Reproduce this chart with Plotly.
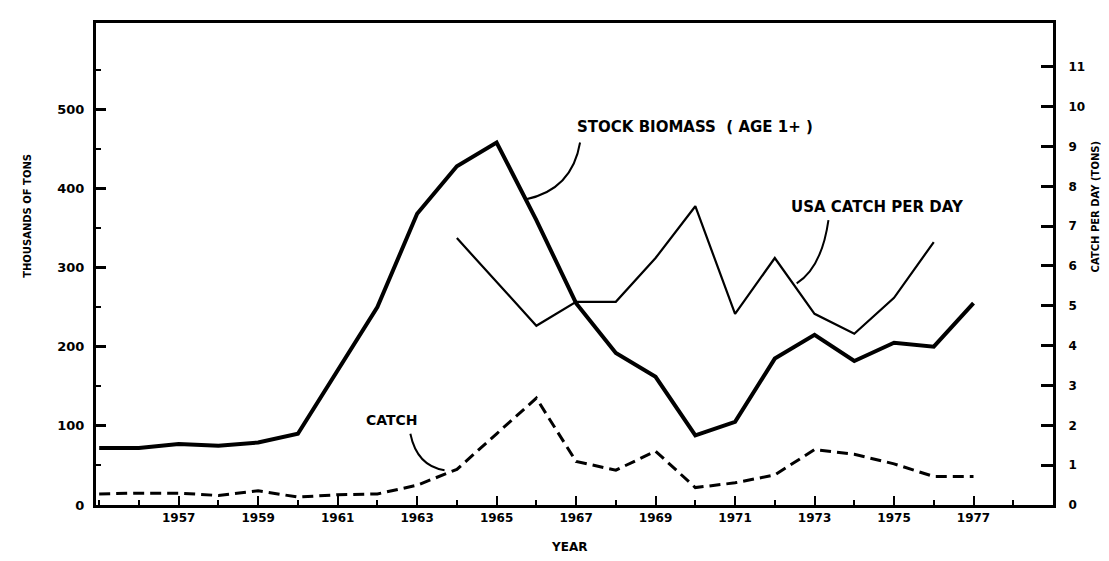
import plotly.graph_objects as go

# years / values
biomass_years = [1955, 1956, 1957, 1958, 1959, 1960, 1962, 1963, 1964, 1965, 1966,
                 1967, 1968, 1969, 1970, 1971, 1972, 1973, 1974, 1975, 1976, 1977]
biomass = [72, 72, 77, 75, 79, 90, 250, 368, 428, 458, 360,
           255, 192, 162, 88, 105, 185, 215, 182, 205, 200, 255]

catch_years = list(range(1955, 1978))
catch = [14, 15, 15, 12, 18, 10, 13, 14, 25, 45, 90, 135,
         55, 44, 68, 22, 28, 38, 70, 64, 52, 36, 36]

cpd_years = [1964, 1966, 1967, 1968, 1969, 1970, 1971, 1972, 1973, 1974, 1975, 1976]
catch_per_day = [6.7, 4.5, 5.1, 5.1, 6.2, 7.5, 4.8, 6.2, 4.8, 4.3, 5.2, 6.6]

year_ticks = [1957, 1959, 1961, 1963, 1965, 1967, 1969, 1971, 1973, 1975, 1977]
year_labels = [str(y) for y in year_ticks]
tons_ticks = [0, 100, 200, 300, 400, 500]
cpd_ticks = list(range(0, 12))

FONT = "DejaVu Sans"
ink = "black"

fig = go.Figure()

fig.add_trace(go.Scatter(x=biomass_years, y=biomass, mode="lines",
                         line=dict(color=ink, width=4), name="Stock biomass"))
fig.add_trace(go.Scatter(x=catch_years, y=catch, mode="lines",
                         line=dict(color=ink, width=3, dash="11px,6px"), name="Catch"))
fig.add_trace(go.Scatter(x=cpd_years, y=catch_per_day, mode="lines", yaxis="y2",
                         line=dict(color=ink, width=2.2), name="USA catch per day"))

tickfont = dict(family=FONT, size=12, color=ink, weight="bold")

fig.update_layout(
    width=1109, height=561,
    margin=dict(l=88, r=64, t=12, b=64),
    paper_bgcolor="white", plot_bgcolor="white",
    showlegend=False,
    xaxis=dict(range=[1954.92, 1979.0], tickmode="array", tickvals=year_ticks,
               ticktext=year_labels, ticks="inside", ticklen=9, tickwidth=2,
               tickcolor=ink, showgrid=False, zeroline=False,
               showline=True, linewidth=3, linecolor=ink, mirror=True,
               tickfont=tickfont,
               minor=dict(tickmode="linear", tick0=1955, dtick=1, ticks="inside",
                          ticklen=5, tickwidth=1.5, tickcolor=ink, showgrid=False)),
    yaxis=dict(range=[0, 609], tickmode="array", tickvals=tons_ticks,
               ticks="inside", ticklen=10, tickwidth=2.5, tickcolor=ink,
               showgrid=False, zeroline=False, showline=True, linewidth=3,
               linecolor=ink, tickfont=dict(family=FONT, size=13, color=ink, weight="bold"),
               ticklabelstandoff=6,
               minor=dict(tickmode="linear", tick0=50, dtick=100, ticks="inside",
                          ticklen=5, tickwidth=2, tickcolor=ink, showgrid=False)),
    yaxis2=dict(range=[0, 12.1], overlaying="y", side="right", tickmode="array",
                tickvals=cpd_ticks, ticks="inside", ticklen=12, tickwidth=2.5,
                tickcolor=ink, showgrid=False, zeroline=False, showline=True,
                linewidth=3, linecolor=ink, ticklabelstandoff=10,
                tickfont=dict(family=FONT, size=12, color=ink, weight="bold")),
)

# series labels with curved leader lines
labels = [
    ("STOCK BIOMASS  ( AGE 1+ )", 1969.99, 477, 15),
    ("USA CATCH PER DAY", 1974.58, 377, 15),
    ("CATCH", 1962.38, 107, 14),
]
for txt, x, y, size in labels:
    fig.add_annotation(x=x, y=y, xref="x", yref="y", text=txt, showarrow=False,
                       font=dict(family=FONT, size=size, color=ink, weight="bold"))

leaders = [
    "M 1967.1,458 Q 1966.9,398 1965.72,386",
    "M 1973.35,360 Q 1973.18,300 1972.55,280",
    "M 1962.83,90 Q 1963.0,49 1963.69,44",
]
for p in leaders:
    fig.add_shape(type="path", path=p, xref="x", yref="y",
                  line=dict(color=ink, width=2))

# axis titles
fig.add_annotation(text="THOUSANDS OF TONS", xref="paper", yref="paper",
                   x=-0.071, y=0.6, xanchor="center", textangle=-90, showarrow=False,
                   font=dict(family=FONT, size=10, color=ink, weight="bold"))
fig.add_annotation(text="CATCH PER DAY (TONS)", xref="paper", yref="paper",
                   x=1.052, y=0.62, textangle=-90, showarrow=False,
                   font=dict(family=FONT, size=10, color=ink, weight="bold"))
fig.add_annotation(text="YEAR", xref="paper", yref="paper", x=0.494, y=-0.105,
                   showarrow=False,
                   font=dict(family=FONT, size=12, color=ink, weight="bold"))

fig.write_html("out.html")
